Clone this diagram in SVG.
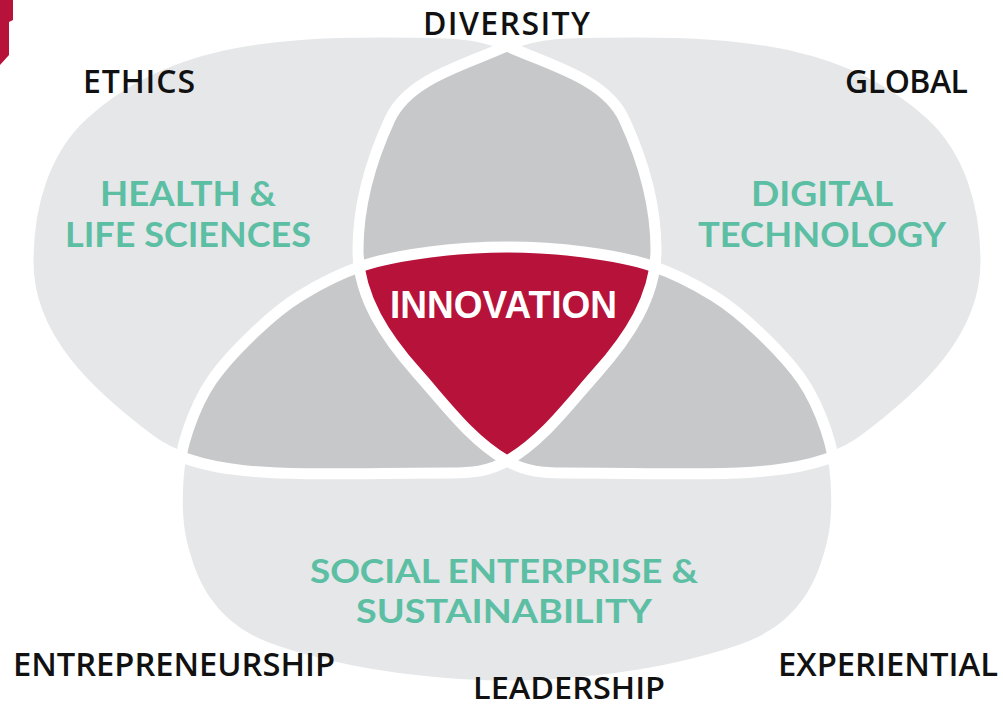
<svg xmlns="http://www.w3.org/2000/svg" width="1003" height="707" viewBox="0 0 1003 707">
<style>
.light{fill:#e5e7e9}
.mid{fill:#c6c8ca}
.core{fill:#b7123a}
.band{fill:none;stroke:#ffffff;stroke-width:11}
.lbl{font-family:"Open Sans","Liberation Sans",sans-serif;font-weight:600;fill:#111111;font-size:32px}
.lbl2{font-family:"Open Sans","Liberation Sans",sans-serif;font-weight:600;fill:#111111;font-size:33px}
.lbl3{font-family:"Open Sans","Liberation Sans",sans-serif;font-weight:600;fill:#111111;font-size:31px}
.area{font-family:Lato,"Liberation Sans",sans-serif;font-weight:700;fill:#5cbea3;font-size:34px}
.area2{font-family:Lato,"Liberation Sans",sans-serif;font-weight:700;fill:#5cbea3;font-size:33px}
.coret{font-family:"Liberation Sans",Arial,sans-serif;font-weight:700;fill:#ffffff;font-size:39px}
</style>
<defs>
<path id="shapeL" d="M28,262 C28,207 43.2,150.9 84,114 C165,40 274.2,32 380,32 C450,32 477.8,32.3 505,45 C547.6,64.9 605,78 624,119 C643,160 656,203.6 656,250 C656,297 628.2,337.9 597,373 C568.8,404.7 543.5,439.9 507,461 C488,472 470,473 450,473 C300,473 206,482 150,440 C89.2,394.4 28,338 28,262 Z"/>
<path id="shapeR" d="M986,262 C986,207 970.8,150.9 930,114 C849,40 739.8,32 634,32 C564,32 536.2,32.3 509,45 C466.4,64.9 409,78 390,119 C371,160 358,203.6 358,250 C358,297 385.8,337.9 417,373 C445.2,404.7 470.5,439.9 507,461 C526,472 544,473 564,473 C714,473 808,482 864,440 C924.8,394.4 986,338 986,262 Z"/>
<path id="shapeB" d="M507,247 C532.7,247 559.8,248.8 584,252 C608.2,255.2 630.3,258.7 652,266 C673.7,273.3 696.2,285 714,296 C731.8,307 744.3,318 759,332 C773.7,346 790.8,363.7 802,380 C813.2,396.3 820.3,413.3 826,430 C831.7,446.7 834.8,461.7 836,480 C837.2,498.3 837.5,520 833,540 C828.5,560 820.5,583.3 809,600 C797.5,616.7 784.8,629 764,640 C743.2,651 712.3,659.2 684,666 C655.7,672.8 623.5,677.7 594,681 C564.5,684.3 536,686 507,686 C478,686 449.5,684.3 420,681 C390.5,677.7 358.3,672.8 330,666 C301.7,659.2 270.8,651 250,640 C229.2,629 216.5,616.7 205,600 C193.5,583.3 185.5,560 181,540 C176.5,520 176.8,498.3 178,480 C179.2,461.7 182.3,446.7 188,430 C193.7,413.3 200.8,396.3 212,380 C223.2,363.7 240.3,346 255,332 C269.7,318 282.2,307 300,296 C317.8,285 340.3,273.3 362,266 C383.7,258.7 405.8,255.2 430,252 C454.2,248.8 481.3,247 507,247 Z"/>
<clipPath id="clipL"><use href="#shapeL"/></clipPath>
<clipPath id="clipR"><use href="#shapeR"/></clipPath>
<clipPath id="clipB"><use href="#shapeB"/></clipPath>
</defs>

<polygon id="corner-mark" points="0,0 13,0 13,20 9,22 9,55 0,65" fill="#b7123a"/>

<g id="circle-health"><use href="#shapeL" class="light"/></g>
<g id="circle-digital"><use href="#shapeR" class="light"/></g>
<g id="circle-social"><use href="#shapeB" class="light"/></g>

<g id="overlap-health-digital" clip-path="url(#clipL)"><use href="#shapeR" class="mid"/></g>
<g id="overlap-health-social" clip-path="url(#clipL)"><use href="#shapeB" class="mid"/></g>
<g id="overlap-digital-social" clip-path="url(#clipR)"><use href="#shapeB" class="mid"/></g>
<g id="innovation" clip-path="url(#clipL)"><g clip-path="url(#clipR)"><use href="#shapeB" class="core"/></g></g>

<g id="bands">
<use href="#shapeL" class="band"/>
<use href="#shapeR" class="band"/>
<use href="#shapeB" class="band"/>
</g>

<g id="area-labels">
<text class="area" x="100" y="206" textLength="176" lengthAdjust="spacingAndGlyphs">HEALTH &amp;</text>
<text class="area" x="65" y="247" textLength="246" lengthAdjust="spacingAndGlyphs">LIFE SCIENCES</text>
<text class="area" x="751" y="206" textLength="142" lengthAdjust="spacingAndGlyphs">DIGITAL</text>
<text class="area" x="698" y="247" textLength="248" lengthAdjust="spacingAndGlyphs">TECHNOLOGY</text>
<text class="area2" x="310" y="583" textLength="388" lengthAdjust="spacingAndGlyphs">SOCIAL ENTERPRISE &amp;</text>
<text class="area2" x="356" y="623" textLength="296" lengthAdjust="spacingAndGlyphs">SUSTAINABILITY</text>
</g>
<g id="innovation-label">
<text class="coret" x="390" y="318" textLength="227" lengthAdjust="spacingAndGlyphs">INNOVATION</text>
</g>
<g id="value-labels">
<text class="lbl" x="423" y="35" textLength="167">DIVERSITY</text>
<text class="lbl" x="83" y="93" textLength="112">ETHICS</text>
<text class="lbl" x="845" y="93" textLength="123">GLOBAL</text>
<text class="lbl2" x="13" y="676" textLength="322" lengthAdjust="spacingAndGlyphs">ENTREPRENEURSHIP</text>
<text class="lbl3" x="473" y="699" textLength="192" lengthAdjust="spacingAndGlyphs">LEADERSHIP</text>
<text class="lbl2" x="778" y="676" textLength="220" lengthAdjust="spacingAndGlyphs">EXPERIENTIAL</text>
</g>
</svg>
